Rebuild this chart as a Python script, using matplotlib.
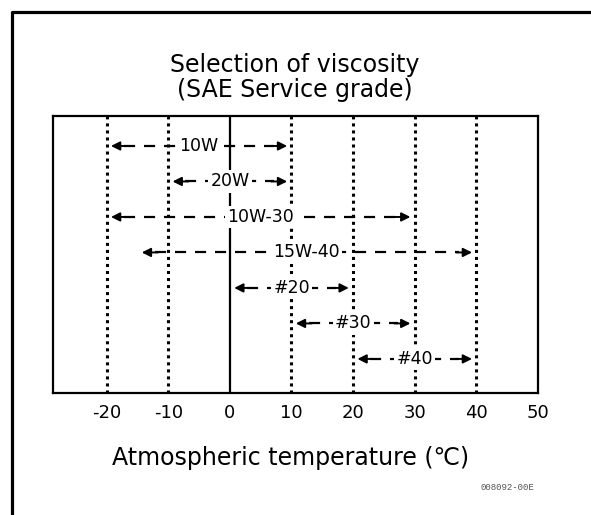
import matplotlib.pyplot as plt
from matplotlib.lines import Line2D

plt.rcParams['font.family'] = ['DejaVu Sans']

# oil grades and their usable temperature ranges (deg C)
grades = ['10W', '20W', '10W-30', '15W-40', '#20', '#30', '#40']
t_low = [-20, -10, -20, -15, 0, 10, 20]
t_high = [10, 10, 30, 40, 20, 30, 40]

grid_x = [-20, -10, 10, 20, 30, 40]
tick_vals = [-20, -10, 0, 10, 20, 30, 40, 50]

fig = plt.figure(figsize=(5.91, 5.15), dpi=100)
ax = fig.add_axes([0.0897, 0.2369, 0.8206, 0.5379])

for gx in grid_x:
    ax.axvline(gx, color='k', lw=2.2, linestyle=(0, (1.0, 1.3)), zorder=1)
ax.axvline(0, color='k', lw=1.6, zorder=1)

head = 2.6
gap = 0.7
for i, (g, lo, hi) in enumerate(zip(grades, t_low, t_high)):
    y = i + 1
    a0, a1 = lo + gap, hi - gap
    ax.plot([a0 + head * 0.8, a1 - head * 0.8], [y, y], color='k', lw=1.6,
            dashes=(5.0, 4.0), zorder=2)
    for a, b in ((a0, a0 + head), (a1, a1 - head)):
        ax.annotate('', xy=(a, y), xytext=(b, y),
                    arrowprops=dict(arrowstyle='-|>', color='k', lw=1.4,
                                    shrinkA=0, shrinkB=0, mutation_scale=13),
                    zorder=3)
    ax.text((lo + hi) / 2, y, g, ha='center', va='center', fontsize=12.5,
            bbox=dict(facecolor='white', edgecolor='none', pad=1.5), zorder=4)

ax.set_xlim(-28.7, 50)
ax.set_ylim(7.96, 0.155)
ax.set_yticks([])
ax.set_xticks(tick_vals)
ax.set_xticklabels([str(v) for v in tick_vals])
ax.tick_params(axis='x', length=0, pad=8, labelsize=13)
for s in ax.spines.values():
    s.set_linewidth(1.6)

fig.text(0.499, 1 - 65 / 515, 'Selection of viscosity', ha='center',
         va='center', fontsize=17)
fig.text(0.499, 1 - 90 / 515, '(SAE Service grade)', ha='center',
         va='center', fontsize=17)
fig.text(0.491, 1 - 458 / 515, 'Atmospheric temperature (\u2103)',
         ha='center', va='center', fontsize=17)
fig.text(507 / 591, 1 - 487 / 515, '008092-00E', ha='center', va='center',
         fontsize=6.5, family='Liberation Mono', color='#555555')

# outer frame (left and top edges)
fx = 12 / 591
fy = 1 - 11.5 / 515
fig.add_artist(Line2D([fx, fx, 1], [0, fy, fy], color='k', lw=2.3,
                      transform=fig.transFigure))

fig.savefig('out.png', dpi=100)
